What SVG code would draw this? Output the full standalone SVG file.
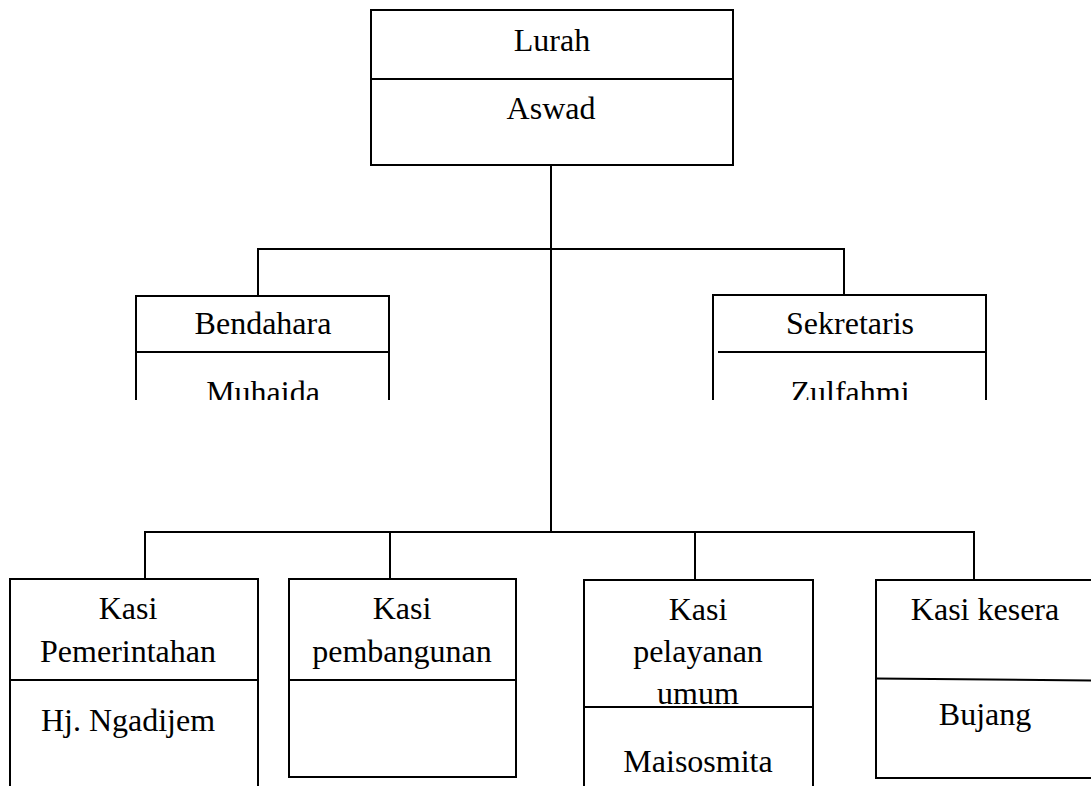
<svg xmlns="http://www.w3.org/2000/svg" width="1091" height="786" viewBox="0 0 1091 786">
<style>
.ln{fill:none;stroke:#000;stroke-width:2;stroke-linecap:square}
.t{font-family:"Liberation Serif","Times New Roman",serif;font-size:32px;fill:#000;text-anchor:middle}
</style>
<defs>
<clipPath id="cut"><rect x="0" y="0" width="1091" height="400"/></clipPath>
</defs>
<rect width="1091" height="786" fill="#fff"/>
<g id="connectors" class="ln">
<path d="M551 165V532"/>
<path d="M258 249H844"/>
<path d="M258 249V296"/>
<path d="M844 249V295"/>
<path d="M145 532H974"/>
<path d="M145 532V579"/>
<path d="M390 532V579"/>
<path d="M695 532V580"/>
<path d="M974 532V580"/>
</g>
<g id="lurah">
<rect class="ln" x="371" y="10" width="362" height="155"/>
<path class="ln" d="M371 79H733"/>
<text class="t" x="552" y="51">Lurah</text>
<text class="t" x="551" y="119">Aswad</text>
</g>
<g id="bendahara" clip-path="url(#cut)">
<path class="ln" d="M136 420V296H389V420"/>
<path class="ln" d="M136 352H389"/>
<text class="t" x="263" y="334">Bendahara</text>
<text class="t" x="263" y="403">Muhaida</text>
</g>
<g id="sekretaris" clip-path="url(#cut)">
<path class="ln" d="M713 420V295H986V420"/>
<path class="ln" d="M719 352H986"/>
<text class="t" x="850" y="334">Sekretaris</text>
<text class="t" x="850" y="403">Zulfahmi</text>
</g>
<g id="kasi-pemerintahan">
<path class="ln" d="M10 800V579H258V800"/>
<path class="ln" d="M10 680H258"/>
<text class="t" x="128" y="619">Kasi</text>
<text class="t" x="128" y="662">Pemerintahan</text>
<text class="t" x="128" y="731">Hj. Ngadijem</text>
</g>
<g id="kasi-pembangunan">
<rect class="ln" x="289" y="579" width="227" height="198"/>
<path class="ln" d="M289 680H516"/>
<text class="t" x="402" y="619">Kasi</text>
<text class="t" x="402" y="662">pembangunan</text>
</g>
<g id="kasi-pelayanan">
<path class="ln" d="M584 800V580H813V800"/>
<path class="ln" d="M584 707H813"/>
<text class="t" x="698" y="620">Kasi</text>
<text class="t" x="698" y="662">pelayanan</text>
<text class="t" x="698" y="704">umum</text>
<text class="t" x="698" y="772">Maisosmita</text>
</g>
<g id="kasi-kesera">
<path class="ln" d="M1100 580H876V778H1100"/>
<path class="ln" d="M876 678.5L1100 680.5"/>
<text class="t" x="985" y="620">Kasi kesera</text>
<text class="t" x="985" y="725">Bujang</text>
</g>
</svg>
